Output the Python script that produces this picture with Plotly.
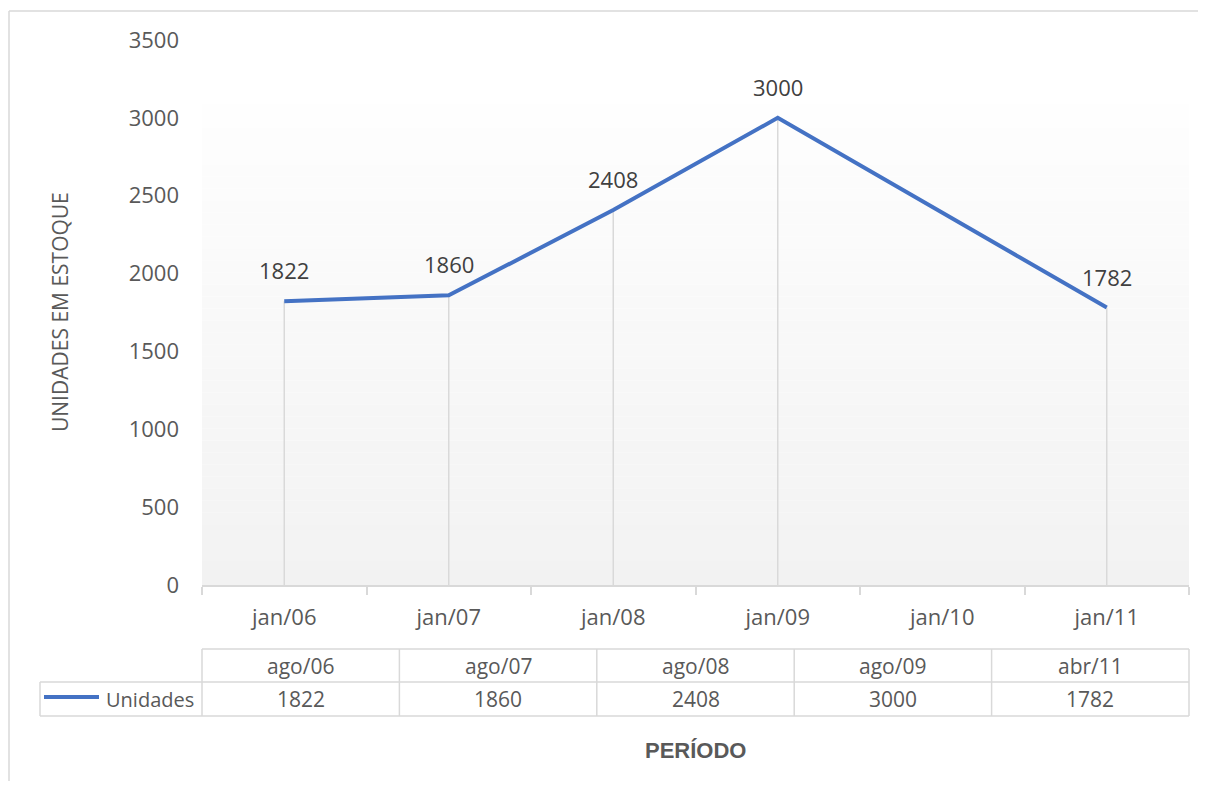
import plotly.graph_objects as go

# ── data ────────────────────────────────────────────────────────────────
axis_years = [2006, 2007, 2008, 2009, 2010, 2011]
axis_labels = ["jan/06", "jan/07", "jan/08", "jan/09", "jan/10", "jan/11"]

period_labels = ["ago/06", "ago/07", "ago/08", "ago/09", "abr/11"]
period_years = [2006, 2007, 2008, 2009, 2011]
units = [1822, 1860, 2408, 3000, 1782]

y_ticks = [0, 500, 1000, 1500, 2000, 2500, 3000, 3500]

# ── style ───────────────────────────────────────────────────────────────
# the page body has an 8px margin, so the figure is drawn 8px in and
# everything below is laid out in "screen" pixels then shifted back.
OFF = 8
W, H = 1190, 773
PLOT_L, PLOT_R, PLOT_T, PLOT_B = 202, 1189, 40, 585     # screen px
L, T = PLOT_L - OFF, PLOT_T - OFF
R, B = W - (PLOT_R - OFF), H - (PLOT_B - OFF)
PW, PH = PLOT_R - PLOT_L, PLOT_B - PLOT_T

LINE_BLUE = "#4472C4"
GRID = "#d9d9d9"
TXT = "#595959"
FONT = "Open Sans, Noto Sans, sans-serif"


def px(x):
    return (x - PLOT_L) / PW


def py(y):
    return (PLOT_B - y) / PH


def note(x, y, text, size=22, color=TXT, family=FONT, **kw):
    fig.add_annotation(x=px(x), y=py(y), xref="paper", yref="paper",
                       text=text, showarrow=False,
                       xanchor=kw.pop("xanchor", "center"), yanchor="middle",
                       font=dict(size=size, color=color, family=family), **kw)


fig = go.Figure()

# drop lines from each point down to the axis
drop_x, drop_y = [], []
for xv, yv in zip(period_years, units):
    drop_x += [xv, xv, None]
    drop_y += [0, yv, None]
fig.add_trace(go.Scatter(
    x=drop_x, y=drop_y, mode="lines",
    line=dict(color=GRID, width=1.5),
    hoverinfo="skip", showlegend=False,
))

fig.add_trace(go.Scatter(
    x=period_years, y=units, mode="lines", name="Unidades",
    line=dict(color=LINE_BLUE, width=4),
    showlegend=False,
))

# data labels
for xv, yv in zip(period_years, units):
    fig.add_annotation(
        x=xv, y=yv, text=str(yv), showarrow=False,
        xanchor="center", yanchor="middle",
        yshift=31, font=dict(size=22, color="#404040", family=FONT),
    )

shapes = []

# plot-area gradient (white at top to light grey at bottom)
n_bands = 40
top_px, bot_px = 104, PLOT_B
for i in range(n_bands):
    y0 = top_px + (bot_px - top_px) * i / n_bands
    y1 = top_px + (bot_px - top_px) * (i + 1) / n_bands
    g = round(254 - (254 - 242) * (i + 0.5) / n_bands)
    shapes.append(dict(
        type="rect", xref="paper", yref="paper",
        x0=0, x1=1, y0=py(y1), y1=py(y0),
        fillcolor=f"rgb({g},{g},{g})", line=dict(width=0), layer="below",
    ))


def hline(x0, x1, y, color=GRID, width=1.5):
    shapes.append(dict(type="line", xref="paper", yref="paper",
                       x0=px(x0), x1=px(x1), y0=py(y), y1=py(y),
                       line=dict(color=color, width=width)))


def vline(x, y0, y1):
    shapes.append(dict(type="line", xref="paper", yref="paper",
                       x0=px(x), x1=px(x), y0=py(y0), y1=py(y1),
                       line=dict(color=GRID, width=1.5)))


# outer chart border (left + top visible)
hline(9, 1220, 11)
vline(9, 11, 800)

# data table below the axis
row_top, row_mid, row_bot = 649, 682, 716
col_w = PW / len(period_labels)
hline(PLOT_L, PLOT_R, row_top)
hline(40, PLOT_R, row_mid)
hline(40, PLOT_R, row_bot)
vline(40, row_mid, row_bot)
for k in range(len(period_labels) + 1):
    vline(PLOT_L + k * col_w, row_top, row_bot)

# legend key inside table
hline(44, 99, 697, color=LINE_BLUE, width=4)

fig.update_layout(shapes=shapes)

for k, (lab, val) in enumerate(zip(period_labels, units)):
    cx = PLOT_L + (k + 0.5) * col_w
    note(cx, (row_top + row_mid) / 2, lab, size=21)
    note(cx, (row_mid + row_bot) / 2, str(val), size=21)

note(104, (row_mid + row_bot) / 2, "Unidades", size=20, xanchor="left")

# axis titles
note(60, 312, "UNIDADES EM ESTOQUE", size=21, textangle=-90)
note(695, 750, "<b>PERÍODO</b>", size=22, family="Liberation Sans, Arial, sans-serif")

fig.update_layout(
    width=W, height=H,
    margin=dict(l=L, r=R, t=T, b=B, pad=0),
    paper_bgcolor="white",
    plot_bgcolor="rgba(0,0,0,0)",
    showlegend=False,
    xaxis=dict(
        range=[axis_years[0] - 0.5, axis_years[-1] + 0.5],
        tickmode="array", tickvals=axis_years, ticktext=axis_labels,
        ticks="", showgrid=False, zeroline=False,
        showline=True, linecolor=GRID, linewidth=1.5,
        tickfont=dict(size=22, color=TXT, family=FONT),
        ticklabelstandoff=12,
        minor=dict(ticks="outside", tick0=axis_years[0] - 0.5, dtick=1,
                   ticklen=8, tickcolor=GRID, tickwidth=1.5, showgrid=False),
    ),
    yaxis=dict(
        range=[0, y_ticks[-1]],
        tickmode="array", tickvals=y_ticks,
        ticks="", showgrid=False, zeroline=False, showline=False,
        tickfont=dict(size=22, color=TXT, family=FONT),
        ticklabelstandoff=22,
    ),
)

fig.write_html("out.html")
